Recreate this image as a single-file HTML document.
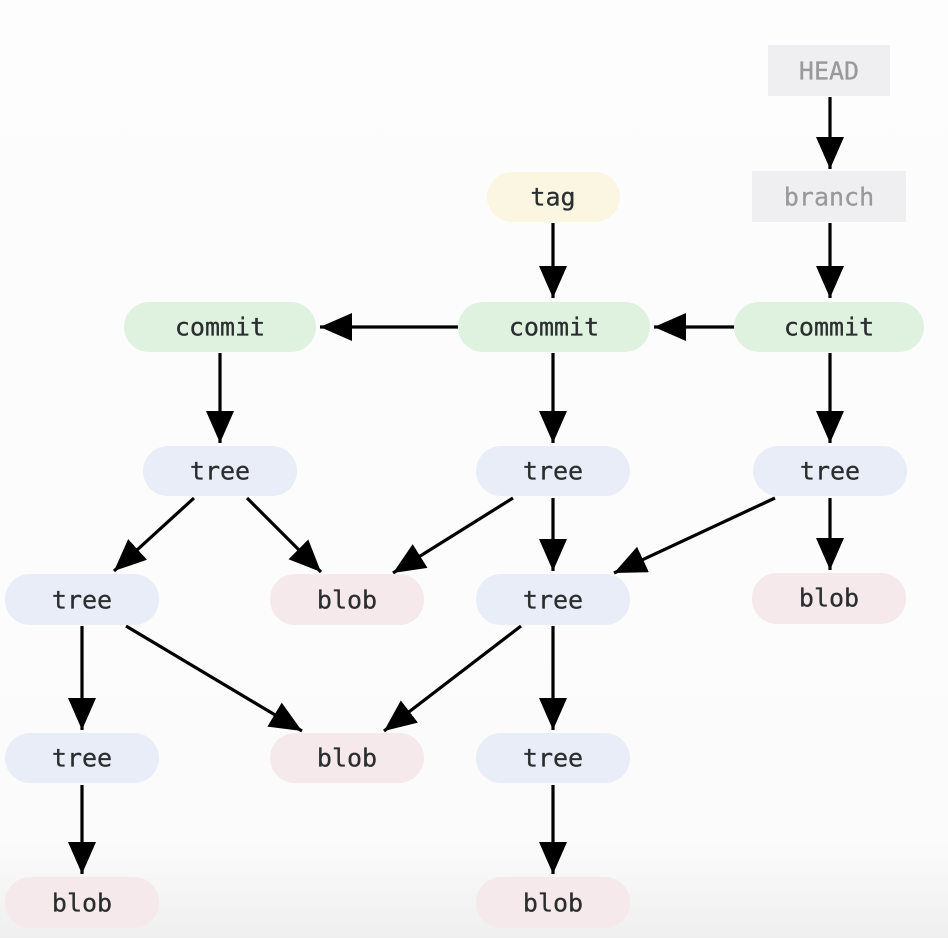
<!DOCTYPE html>
<html><head><meta charset="utf-8"><style>
html,body{margin:0;padding:0;background:#fdfdfd;}
svg{display:block;}
text{font-family:"DejaVu Sans Mono","Liberation Mono",monospace;font-size:25px;text-anchor:middle;dominant-baseline:central;fill:#2a2e2e;stroke:#2a2e2e;stroke-width:0.3px;}
</style></head><body>
<svg width="948" height="938" viewBox="0 0 948 938" xmlns="http://www.w3.org/2000/svg">
<defs>
<marker id="ah" viewBox="0 0 32 28" refX="32" refY="14" markerWidth="32" markerHeight="28" orient="auto" markerUnits="userSpaceOnUse">
<path d="M0,0 L32,14 L0,28 Z" fill="#000"/>
</marker>
<linearGradient id="bg" x1="0" y1="0" x2="0" y2="1">
<stop offset="0" stop-color="#fdfdfd"/><stop offset="0.9" stop-color="#fbfbfb"/><stop offset="1" stop-color="#efefef"/>
</linearGradient>
</defs>
<rect width="948" height="938" fill="url(#bg)"/>
<g stroke="#000" stroke-width="3.2" fill="none" marker-end="url(#ah)">
<line x1="830" y1="97" x2="830" y2="169"/>
<line x1="830" y1="223" x2="830" y2="298"/>
<line x1="553" y1="223" x2="553" y2="298"/>
<line x1="735" y1="327" x2="654" y2="327"/>
<line x1="458" y1="327" x2="320" y2="327"/>
<line x1="220" y1="353" x2="220" y2="443"/>
<line x1="553" y1="353" x2="553" y2="443"/>
<line x1="830" y1="353" x2="830" y2="443"/>
<line x1="194" y1="498" x2="114" y2="571"/>
<line x1="247" y1="498" x2="321" y2="572"/>
<line x1="513" y1="498" x2="393" y2="573"/>
<line x1="553" y1="498" x2="553" y2="571"/>
<line x1="775" y1="498" x2="614" y2="573"/>
<line x1="830" y1="498" x2="830" y2="570"/>
<line x1="126" y1="626" x2="302" y2="731"/>
<line x1="82" y1="626" x2="82" y2="730"/>
<line x1="521" y1="626" x2="384" y2="731"/>
<line x1="553" y1="626" x2="553" y2="730"/>
<line x1="82" y1="785" x2="82" y2="874"/>
<line x1="553" y1="785" x2="553" y2="874"/>
</g>
<rect x="768" y="45" width="122" height="51" fill="#efeff1"/>
<text x="829" y="71" style="fill:#999;stroke:#999">HEAD</text>
<rect x="752" y="171" width="154" height="51" fill="#efeff1"/>
<text x="829" y="197" style="fill:#999;stroke:#999">branch</text>
<rect x="487" y="172" width="133" height="50" rx="25" fill="#faf6e1"/>
<text x="553" y="197">tag</text>
<g fill="#dff2e0">
<rect x="124" y="302" width="192" height="50" rx="25"/>
<rect x="458" y="302" width="192" height="50" rx="25"/>
<rect x="734" y="302" width="190" height="50" rx="25"/>
</g>
<text x="220" y="327">commit</text><text x="554" y="327">commit</text><text x="829" y="327">commit</text>
<g fill="#e9edf7">
<rect x="143" y="446" width="154" height="50" rx="25"/>
<rect x="476" y="446" width="154" height="50" rx="25"/>
<rect x="753" y="446" width="154" height="50" rx="25"/>
<rect x="5" y="574" width="154" height="51" rx="25"/>
<rect x="476" y="574" width="154" height="51" rx="25"/>
<rect x="5" y="733" width="154" height="50" rx="25"/>
<rect x="476" y="733" width="154" height="50" rx="25"/>
</g>
<g fill="#f6e9eb">
<rect x="270" y="574" width="154" height="51" rx="25"/>
<rect x="752" y="573" width="154" height="51" rx="25"/>
<rect x="270" y="733" width="154" height="50" rx="25"/>
<rect x="5" y="877" width="154" height="51" rx="25"/>
<rect x="476" y="877" width="154" height="51" rx="25"/>
</g>
<text x="220" y="471">tree</text><text x="553" y="471">tree</text><text x="830" y="471">tree</text>
<text x="82" y="600">tree</text><text x="347" y="600">blob</text><text x="553" y="600">tree</text><text x="829" y="598">blob</text>
<text x="82" y="758">tree</text><text x="347" y="758">blob</text><text x="553" y="758">tree</text>
<text x="82" y="903">blob</text><text x="553" y="903">blob</text>
</svg>
</body></html>
